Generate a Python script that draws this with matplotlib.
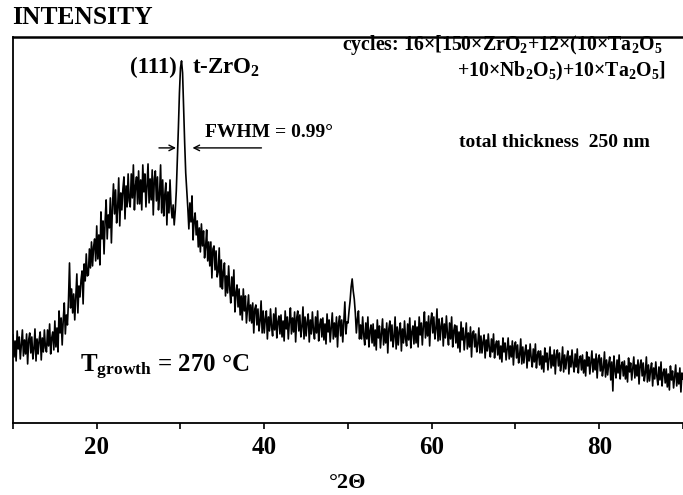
import numpy as np
import matplotlib
matplotlib.use("Agg")
import matplotlib.pyplot as plt

plt.rcParams['font.family'] = ['Liberation Serif', 'DejaVu Serif']
plt.rcParams['font.weight'] = 'bold'
plt.rcParams['mathtext.fontset'] = 'custom'
plt.rcParams['mathtext.rm'] = 'Liberation Serif:bold'
plt.rcParams['mathtext.it'] = 'Liberation Serif:bold'
plt.rcParams['mathtext.bf'] = 'Liberation Serif:bold'
plt.rcParams['mathtext.default'] = 'rm'

# diffractogram, every 0.125 deg from 10 to 90 (arb. units)
# one line per degree
two_theta_start = 10.0
two_theta_step = 0.125
intensity = [
    88, 66, 82, 62, 92, 74, 86, 64,          # 10
    79, 93, 67, 83, 69, 89, 59, 83,          # 11
    90, 70, 86, 64, 74, 94, 62, 84,          # 12
    69, 83, 91, 63, 85, 71, 93, 75,          # 13
    71, 93, 77, 99, 69, 85, 91, 73,          # 14
    102, 76, 95, 71, 112, 90, 105, 78,       # 15
    103, 120, 89, 108, 98, 122, 160, 115,    # 16
    134, 110, 129, 103, 125, 149, 110, 137,  # 17
    126, 143, 152, 119, 159, 142, 169, 147,  # 18
    148, 174, 155, 181, 157, 176, 184, 162,  # 19
    197, 164, 188, 158, 211, 184, 202, 169,  # 20
    202, 223, 184, 208, 195, 225, 180, 216,  # 21
    239, 209, 233, 200, 215, 245, 197, 230,  # 22
    213, 234, 246, 204, 237, 216, 249, 222,  # 23
    216, 249, 225, 258, 213, 237, 246, 219,  # 24
    252, 219, 243, 213, 258, 231, 249, 216,  # 25
    238, 259, 220, 244, 223, 253, 208, 244,  # 26
    252, 222, 246, 213, 228, 258, 210, 243,  # 27
    207, 228, 240, 198, 231, 210, 243, 216,  # 28
    205, 218, 198, 212, 232, 262, 295, 330,  # 29
    355, 362, 350, 315, 280, 250, 232, 215,  # 30  t-ZrO2 (111)
    194, 220, 201, 227, 183, 202, 210, 188,  # 31
    202, 176, 195, 171, 199, 177, 192, 165,  # 32
    176, 193, 162, 181, 157, 181, 145, 174,  # 33
    177, 153, 172, 146, 151, 175, 136, 163,  # 34
    134, 151, 160, 127, 147, 130, 157, 135,  # 35
    120, 146, 127, 153, 111, 130, 138, 116,  # 36
    134, 108, 127, 103, 134, 112, 127, 100,  # 37
    114, 128, 102, 118, 100, 120, 90, 114,   # 38
    118, 98, 114, 92, 102, 122, 90, 112,     # 39
    90, 104, 112, 84, 106, 92, 114, 96,      # 40
    87, 109, 93, 115, 85, 101, 107, 89,      # 41
    108, 86, 102, 82, 112, 94, 106, 84,      # 42
    101, 115, 89, 105, 91, 111, 81, 105,     # 43
    112, 92, 108, 86, 96, 116, 84, 106,      # 44
    87, 101, 109, 81, 103, 89, 111, 93,      # 45
    84, 106, 90, 112, 82, 98, 104, 86,       # 46
    105, 83, 99, 79, 109, 91, 103, 81,       # 47
    96, 110, 84, 100, 86, 106, 76, 100,      # 48
    107, 87, 103, 81, 101, 121, 89, 101,     # 49
    100, 112, 122, 136, 144, 132, 124, 110,  # 50
    90, 104, 112, 84, 98, 84, 106, 88,       # 51
    78, 100, 84, 106, 76, 92, 98, 80,        # 52
    99, 77, 93, 73, 103, 85, 97, 75,         # 53
    90, 104, 78, 94, 80, 100, 70, 94,        # 54
    102, 82, 98, 76, 86, 106, 74, 96,        # 55
    78, 92, 100, 72, 94, 80, 102, 84,        # 56
    77, 99, 83, 105, 75, 91, 97, 79,         # 57
    102, 80, 96, 76, 106, 88, 100, 78,       # 58
    97, 111, 85, 101, 87, 107, 77, 101,      # 59
    110, 90, 106, 84, 94, 114, 82, 104,      # 60
    83, 97, 105, 77, 99, 85, 107, 89,        # 61
    78, 100, 84, 106, 76, 92, 98, 80,        # 62
    97, 75, 91, 71, 101, 83, 95, 73,         # 63
    86, 100, 74, 90, 76, 96, 66, 90,         # 64
    92, 76, 89, 71, 79, 95, 70, 87,          # 65
    70, 81, 88, 65, 83, 72, 89, 75,          # 66
    66, 84, 71, 89, 65, 78, 82, 68,          # 67
    82, 64, 77, 61, 85, 71, 80, 63,          # 68
    74, 85, 64, 77, 66, 82, 58, 77,          # 69
    81, 65, 78, 60, 68, 84, 59, 76,          # 70
    60, 71, 78, 55, 73, 62, 79, 65,          # 71
    56, 74, 61, 79, 55, 68, 72, 58,          # 72
    72, 54, 67, 51, 75, 61, 70, 53,          # 73
    65, 76, 55, 68, 57, 73, 49, 68,          # 74
    73, 57, 70, 52, 60, 76, 51, 68,          # 75
    54, 65, 72, 49, 67, 56, 73, 59,          # 76
    51, 69, 56, 74, 50, 63, 67, 53,          # 77
    68, 50, 63, 47, 71, 57, 66, 49,          # 78
    61, 72, 51, 64, 53, 69, 45, 64,          # 79
    68, 52, 65, 47, 55, 71, 46, 63,          # 80
    48, 59, 66, 43, 61, 32, 67, 53,          # 81
    45, 63, 50, 68, 44, 57, 61, 47,          # 82
    62, 44, 57, 41, 65, 51, 60, 43,          # 83
    55, 66, 45, 58, 47, 63, 39, 58,          # 84
    63, 47, 60, 42, 50, 66, 41, 58,          # 85
    42, 53, 60, 37, 55, 44, 61, 47,          # 86
    38, 56, 43, 61, 37, 50, 54, 40,          # 87
    54, 36, 49, 33, 57, 43, 52, 35,          # 88
    47, 58, 37, 50, 39, 55, 31, 50,          # 89
    44,                                      # 90
]
two_theta = two_theta_start + two_theta_step * np.arange(len(intensity))

major_ticks = [20, 40, 60, 80]
minor_ticks = [10, 30, 50, 70, 90]

fig = plt.figure(figsize=(6.83, 4.95), dpi=100)
ax = fig.add_axes([0.019, 0.1455, 0.981, 0.78])

ax.plot(two_theta, intensity, color='black', lw=1.2)

ax.set_xlim(10, 90)
ax.set_ylim(0, 386)
ax.set_yticks([])
ax.set_xticks(major_ticks)
ax.set_xticks(minor_ticks, minor=True)
ax.tick_params(axis='x', which='both', direction='out', length=4.5, width=1.2,
               labelsize=18, pad=5)
for lab in ax.get_xticklabels():
    lab.set_fontweight('bold')
ax.spines['right'].set_visible(False)
for s in ['left', 'bottom']:
    ax.spines[s].set_linewidth(1.3)
ax.spines['top'].set_linewidth(1.8)

fig.text(12 / 683, 1 - 18 / 495, 'INTENSITY', fontsize=18.4, fontweight='bold',
         ha='left', va='center')
fig.text(348 / 683, 1 - 483 / 495, '°2Θ', fontsize=16, fontweight='bold',
         ha='center', va='center')

# peak labels
ax.text(29.5, 355, '(111)', fontsize=16.5, ha='right', va='center')
ax.text(31.4, 355, 't-ZrO$_2$', fontsize=16.5, ha='left', va='center')
ax.text(32.9, 290, 'FWHM = 0.99°', fontsize=14, ha='left', va='center')
ax.annotate('', xy=(29.8, 275), xytext=(27.1, 275),
            arrowprops=dict(arrowstyle='->', color='black', lw=1))
ax.annotate('', xy=(31.1, 275), xytext=(40.0, 275),
            arrowprops=dict(arrowstyle='->', color='black', lw=1))

ax.text(49.3, 378, 'cycles: 16×[150×ZrO$_2$+12×(10×Ta$_2$O$_5$', fontsize=14.3,
        ha='left', va='center')
ax.text(87.9, 351, '+10×Nb$_2$O$_5$)+10×Ta$_2$O$_5$]', fontsize=14.3,
        ha='right', va='center')
ax.text(63.2, 280, 'total thickness  250 nm', fontsize=14, ha='left', va='center')
ax.text(18.0, 56, 'T$_{\\mathregular{growth}}$ = 270 °C', fontsize=18,
        ha='left', va='center')

fig.savefig('out.png', dpi=100)
